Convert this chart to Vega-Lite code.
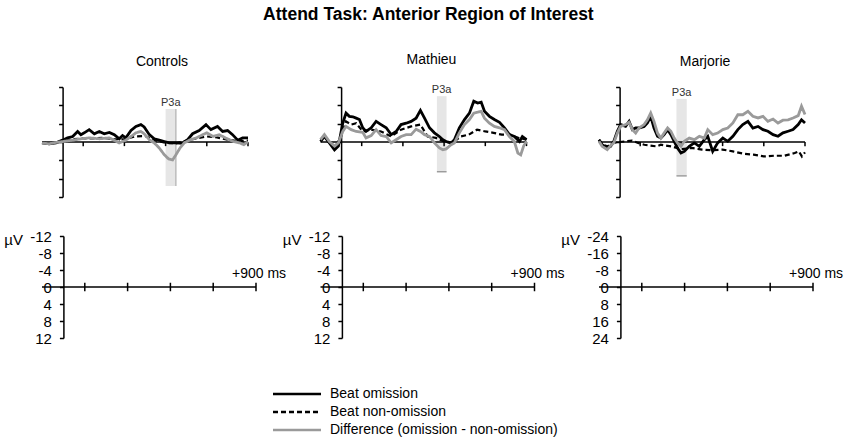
{
"$schema":"https://vega.github.io/schema/vega-lite/v6.json",
"padding":{"left":3,"top":5,"right":14,"bottom":4},
"title":{"text":"Attend Task: Anterior Region of Interest","fontSize":17.5,"fontWeight":"bold","anchor":"middle","offset":30,"dx":5,"color":"black"},
"config":{"font":"Liberation Sans","view":{"stroke":null},"title":{"color":"black"}},
"datasets":{"series":[
{"p":"C","s":"om","t":-100,"v":0.2},{"p":"C","s":"om","t":-65,"v":0.4},{"p":"C","s":"om","t":-32,"v":0.2},{"p":"C","s":"om","t":0,"v":-0.4},{"p":"C","s":"om","t":24,"v":-0.9},{"p":"C","s":"om","t":49,"v":-1.2},{"p":"C","s":"om","t":73,"v":-2.3},{"p":"C","s":"om","t":89,"v":-1.6},{"p":"C","s":"om","t":105,"v":-2.0},{"p":"C","s":"om","t":129,"v":-2.7},{"p":"C","s":"om","t":154,"v":-1.8},{"p":"C","s":"om","t":178,"v":-2.3},{"p":"C","s":"om","t":202,"v":-1.8},{"p":"C","s":"om","t":227,"v":-2.1},{"p":"C","s":"om","t":251,"v":-1.6},{"p":"C","s":"om","t":275,"v":-0.7},{"p":"C","s":"om","t":291,"v":-1.4},{"p":"C","s":"om","t":307,"v":-0.9},{"p":"C","s":"om","t":332,"v":-2.5},{"p":"C","s":"om","t":356,"v":-3.4},{"p":"C","s":"om","t":380,"v":-3.8},{"p":"C","s":"om","t":396,"v":-3.3},{"p":"C","s":"om","t":421,"v":-1.6},{"p":"C","s":"om","t":445,"v":-0.7},{"p":"C","s":"om","t":469,"v":-0.4},{"p":"C","s":"om","t":494,"v":-0.1},{"p":"C","s":"om","t":518,"v":0.2},{"p":"C","s":"om","t":550,"v":0.2},{"p":"C","s":"om","t":583,"v":0.3},{"p":"C","s":"om","t":607,"v":-0.5},{"p":"C","s":"om","t":631,"v":-1.8},{"p":"C","s":"om","t":663,"v":-2.5},{"p":"C","s":"om","t":696,"v":-3.8},{"p":"C","s":"om","t":720,"v":-2.7},{"p":"C","s":"om","t":752,"v":-3.4},{"p":"C","s":"om","t":777,"v":-2.3},{"p":"C","s":"om","t":801,"v":-2.5},{"p":"C","s":"om","t":825,"v":-1.6},{"p":"C","s":"om","t":850,"v":-0.4},{"p":"C","s":"om","t":874,"v":-0.9},{"p":"C","s":"om","t":900,"v":-0.9},
{"p":"C","s":"non","t":-100,"v":0.2},{"p":"C","s":"non","t":-50,"v":0.3},{"p":"C","s":"non","t":0,"v":-0.2},{"p":"C","s":"non","t":50,"v":-0.6},{"p":"C","s":"non","t":100,"v":-0.8},{"p":"C","s":"non","t":150,"v":-0.8},{"p":"C","s":"non","t":200,"v":-0.9},{"p":"C","s":"non","t":250,"v":-0.6},{"p":"C","s":"non","t":300,"v":-0.6},{"p":"C","s":"non","t":350,"v":-1.2},{"p":"C","s":"non","t":400,"v":-1.3},{"p":"C","s":"non","t":450,"v":-0.4},{"p":"C","s":"non","t":500,"v":0.2},{"p":"C","s":"non","t":550,"v":0.3},{"p":"C","s":"non","t":600,"v":-0.3},{"p":"C","s":"non","t":650,"v":-0.8},{"p":"C","s":"non","t":700,"v":-1.2},{"p":"C","s":"non","t":750,"v":-1.0},{"p":"C","s":"non","t":800,"v":-0.5},{"p":"C","s":"non","t":850,"v":-0.2},{"p":"C","s":"non","t":900,"v":-0.3},
{"p":"C","s":"diff","t":-100,"v":0.2},{"p":"C","s":"diff","t":-65,"v":0.4},{"p":"C","s":"diff","t":-32,"v":0.1},{"p":"C","s":"diff","t":0,"v":-0.1},{"p":"C","s":"diff","t":49,"v":-0.4},{"p":"C","s":"diff","t":89,"v":-0.7},{"p":"C","s":"diff","t":129,"v":-0.9},{"p":"C","s":"diff","t":178,"v":-0.7},{"p":"C","s":"diff","t":227,"v":-0.9},{"p":"C","s":"diff","t":275,"v":0.2},{"p":"C","s":"diff","t":307,"v":-0.4},{"p":"C","s":"diff","t":332,"v":-1.2},{"p":"C","s":"diff","t":356,"v":-2.0},{"p":"C","s":"diff","t":380,"v":-2.3},{"p":"C","s":"diff","t":396,"v":-1.8},{"p":"C","s":"diff","t":421,"v":-0.5},{"p":"C","s":"diff","t":445,"v":0.2},{"p":"C","s":"diff","t":469,"v":1.3},{"p":"C","s":"diff","t":494,"v":2.8},{"p":"C","s":"diff","t":515,"v":3.7},{"p":"C","s":"diff","t":534,"v":3.9},{"p":"C","s":"diff","t":550,"v":2.8},{"p":"C","s":"diff","t":570,"v":1.3},{"p":"C","s":"diff","t":590,"v":0.2},{"p":"C","s":"diff","t":620,"v":-0.5},{"p":"C","s":"diff","t":650,"v":-0.9},{"p":"C","s":"diff","t":680,"v":-1.6},{"p":"C","s":"diff","t":700,"v":-2.0},{"p":"C","s":"diff","t":730,"v":-1.2},{"p":"C","s":"diff","t":760,"v":-1.6},{"p":"C","s":"diff","t":790,"v":-0.9},{"p":"C","s":"diff","t":830,"v":-0.1},{"p":"C","s":"diff","t":860,"v":0.2},{"p":"C","s":"diff","t":880,"v":0.6},{"p":"C","s":"diff","t":900,"v":-0.1},
{"p":"M","s":"om","t":-100,"v":-0.1},{"p":"M","s":"om","t":-81,"v":-1.2},{"p":"M","s":"om","t":-57,"v":0.2},{"p":"M","s":"om","t":-32,"v":1.7},{"p":"M","s":"om","t":-13,"v":0.9},{"p":"M","s":"om","t":8,"v":-4.1},{"p":"M","s":"om","t":24,"v":-6.3},{"p":"M","s":"om","t":40,"v":-5.6},{"p":"M","s":"om","t":57,"v":-5.5},{"p":"M","s":"om","t":73,"v":-5.2},{"p":"M","s":"om","t":89,"v":-4.9},{"p":"M","s":"om","t":105,"v":-3.1},{"p":"M","s":"om","t":121,"v":-2.3},{"p":"M","s":"om","t":146,"v":-3.1},{"p":"M","s":"om","t":170,"v":-4.5},{"p":"M","s":"om","t":194,"v":-3.8},{"p":"M","s":"om","t":219,"v":-3.1},{"p":"M","s":"om","t":243,"v":-1.6},{"p":"M","s":"om","t":267,"v":-2.3},{"p":"M","s":"om","t":291,"v":-3.8},{"p":"M","s":"om","t":316,"v":-4.1},{"p":"M","s":"om","t":340,"v":-4.5},{"p":"M","s":"om","t":364,"v":-5.2},{"p":"M","s":"om","t":385,"v":-6.9},{"p":"M","s":"om","t":405,"v":-5.2},{"p":"M","s":"om","t":429,"v":-3.1},{"p":"M","s":"om","t":453,"v":-2.0},{"p":"M","s":"om","t":477,"v":-1.2},{"p":"M","s":"om","t":494,"v":-0.5},{"p":"M","s":"om","t":510,"v":-0.1},{"p":"M","s":"om","t":534,"v":0.2},{"p":"M","s":"om","t":550,"v":-0.5},{"p":"M","s":"om","t":574,"v":-3.1},{"p":"M","s":"om","t":599,"v":-4.9},{"p":"M","s":"om","t":623,"v":-6.3},{"p":"M","s":"om","t":644,"v":-8.9},{"p":"M","s":"om","t":663,"v":-8.5},{"p":"M","s":"om","t":680,"v":-8.7},{"p":"M","s":"om","t":696,"v":-6.7},{"p":"M","s":"om","t":720,"v":-5.6},{"p":"M","s":"om","t":744,"v":-4.9},{"p":"M","s":"om","t":769,"v":-4.3},{"p":"M","s":"om","t":793,"v":-3.1},{"p":"M","s":"om","t":817,"v":-1.6},{"p":"M","s":"om","t":841,"v":-1.2},{"p":"M","s":"om","t":866,"v":-0.1},{"p":"M","s":"om","t":880,"v":-1.2},{"p":"M","s":"om","t":900,"v":-0.5},
{"p":"M","s":"non","t":-100,"v":-0.5},{"p":"M","s":"non","t":-80,"v":-1.2},{"p":"M","s":"non","t":-57,"v":0.2},{"p":"M","s":"non","t":-32,"v":1.3},{"p":"M","s":"non","t":0,"v":-1.2},{"p":"M","s":"non","t":24,"v":-4.5},{"p":"M","s":"non","t":49,"v":-3.8},{"p":"M","s":"non","t":73,"v":-4.1},{"p":"M","s":"non","t":105,"v":-2.3},{"p":"M","s":"non","t":146,"v":-2.7},{"p":"M","s":"non","t":194,"v":-2.3},{"p":"M","s":"non","t":243,"v":-1.2},{"p":"M","s":"non","t":291,"v":-2.7},{"p":"M","s":"non","t":340,"v":-3.4},{"p":"M","s":"non","t":385,"v":-3.8},{"p":"M","s":"non","t":420,"v":-1.2},{"p":"M","s":"non","t":460,"v":-0.9},{"p":"M","s":"non","t":500,"v":-0.1},{"p":"M","s":"non","t":540,"v":0.2},{"p":"M","s":"non","t":580,"v":-1.2},{"p":"M","s":"non","t":620,"v":-1.6},{"p":"M","s":"non","t":660,"v":-2.7},{"p":"M","s":"non","t":700,"v":-2.3},{"p":"M","s":"non","t":740,"v":-2.0},{"p":"M","s":"non","t":780,"v":-1.6},{"p":"M","s":"non","t":820,"v":-1.6},{"p":"M","s":"non","t":860,"v":-0.9},{"p":"M","s":"non","t":900,"v":-0.5},
{"p":"M","s":"diff","t":-100,"v":-0.5},{"p":"M","s":"diff","t":-81,"v":-1.6},{"p":"M","s":"diff","t":-57,"v":-0.1},{"p":"M","s":"diff","t":-32,"v":0.9},{"p":"M","s":"diff","t":-13,"v":0.2},{"p":"M","s":"diff","t":8,"v":-2.3},{"p":"M","s":"diff","t":24,"v":-3.4},{"p":"M","s":"diff","t":49,"v":-2.7},{"p":"M","s":"diff","t":73,"v":-2.3},{"p":"M","s":"diff","t":105,"v":-2.1},{"p":"M","s":"diff","t":121,"v":-0.9},{"p":"M","s":"diff","t":146,"v":-1.4},{"p":"M","s":"diff","t":170,"v":-2.7},{"p":"M","s":"diff","t":194,"v":-1.4},{"p":"M","s":"diff","t":219,"v":-1.2},{"p":"M","s":"diff","t":243,"v":0.2},{"p":"M","s":"diff","t":267,"v":-0.5},{"p":"M","s":"diff","t":291,"v":-1.2},{"p":"M","s":"diff","t":316,"v":-1.6},{"p":"M","s":"diff","t":340,"v":-1.6},{"p":"M","s":"diff","t":364,"v":-2.8},{"p":"M","s":"diff","t":385,"v":-2.3},{"p":"M","s":"diff","t":405,"v":-1.6},{"p":"M","s":"diff","t":429,"v":-1.2},{"p":"M","s":"diff","t":453,"v":0.2},{"p":"M","s":"diff","t":477,"v":1.3},{"p":"M","s":"diff","t":494,"v":1.7},{"p":"M","s":"diff","t":510,"v":1.5},{"p":"M","s":"diff","t":534,"v":0.6},{"p":"M","s":"diff","t":550,"v":0.2},{"p":"M","s":"diff","t":574,"v":-2.0},{"p":"M","s":"diff","t":599,"v":-3.8},{"p":"M","s":"diff","t":623,"v":-4.9},{"p":"M","s":"diff","t":644,"v":-6.3},{"p":"M","s":"diff","t":663,"v":-6.5},{"p":"M","s":"diff","t":680,"v":-6.7},{"p":"M","s":"diff","t":696,"v":-5.2},{"p":"M","s":"diff","t":720,"v":-4.1},{"p":"M","s":"diff","t":744,"v":-3.4},{"p":"M","s":"diff","t":769,"v":-3.1},{"p":"M","s":"diff","t":793,"v":-2.7},{"p":"M","s":"diff","t":817,"v":-1.2},{"p":"M","s":"diff","t":841,"v":-0.1},{"p":"M","s":"diff","t":858,"v":2.4},{"p":"M","s":"diff","t":872,"v":2.8},{"p":"M","s":"diff","t":886,"v":0.9},{"p":"M","s":"diff","t":900,"v":-0.1},
{"p":"J","s":"om","t":-100,"v":-1.0},{"p":"J","s":"om","t":-85,"v":1.2},{"p":"J","s":"om","t":-60,"v":2.6},{"p":"J","s":"om","t":-44,"v":1.9},{"p":"J","s":"om","t":-28,"v":-0.3},{"p":"J","s":"om","t":-11,"v":-4.7},{"p":"J","s":"om","t":5,"v":-7.6},{"p":"J","s":"om","t":29,"v":-6.8},{"p":"J","s":"om","t":46,"v":-9.0},{"p":"J","s":"om","t":62,"v":-5.4},{"p":"J","s":"om","t":78,"v":-6.1},{"p":"J","s":"om","t":94,"v":-6.1},{"p":"J","s":"om","t":119,"v":-6.8},{"p":"J","s":"om","t":135,"v":-8.3},{"p":"J","s":"om","t":151,"v":-11.2},{"p":"J","s":"om","t":167,"v":-6.1},{"p":"J","s":"om","t":184,"v":-2.5},{"p":"J","s":"om","t":200,"v":-1.7},{"p":"J","s":"om","t":216,"v":-3.2},{"p":"J","s":"om","t":233,"v":-5.4},{"p":"J","s":"om","t":249,"v":-3.2},{"p":"J","s":"om","t":265,"v":-0.3},{"p":"J","s":"om","t":281,"v":2.6},{"p":"J","s":"om","t":298,"v":4.8},{"p":"J","s":"om","t":314,"v":4.1},{"p":"J","s":"om","t":338,"v":1.9},{"p":"J","s":"om","t":363,"v":0.4},{"p":"J","s":"om","t":387,"v":1.9},{"p":"J","s":"om","t":411,"v":-1.0},{"p":"J","s":"om","t":428,"v":-2.5},{"p":"J","s":"om","t":452,"v":4.1},{"p":"J","s":"om","t":476,"v":0.4},{"p":"J","s":"om","t":501,"v":-1.7},{"p":"J","s":"om","t":525,"v":-0.3},{"p":"J","s":"om","t":550,"v":-2.5},{"p":"J","s":"om","t":574,"v":-5.4},{"p":"J","s":"om","t":598,"v":-7.6},{"p":"J","s":"om","t":623,"v":-9.0},{"p":"J","s":"om","t":647,"v":-6.1},{"p":"J","s":"om","t":672,"v":-6.8},{"p":"J","s":"om","t":696,"v":-5.4},{"p":"J","s":"om","t":720,"v":-4.7},{"p":"J","s":"om","t":745,"v":-3.2},{"p":"J","s":"om","t":769,"v":-2.5},{"p":"J","s":"om","t":793,"v":-4.0},{"p":"J","s":"om","t":818,"v":-4.7},{"p":"J","s":"om","t":842,"v":-5.4},{"p":"J","s":"om","t":867,"v":-7.6},{"p":"J","s":"om","t":883,"v":-9.7},{"p":"J","s":"om","t":900,"v":-8.3},
{"p":"J","s":"non","t":-100,"v":-1.0},{"p":"J","s":"non","t":-80,"v":1.2},{"p":"J","s":"non","t":-60,"v":1.9},{"p":"J","s":"non","t":-30,"v":0.4},{"p":"J","s":"non","t":0,"v":0.0},{"p":"J","s":"non","t":30,"v":-0.3},{"p":"J","s":"non","t":60,"v":-0.6},{"p":"J","s":"non","t":90,"v":0.4},{"p":"J","s":"non","t":120,"v":1.2},{"p":"J","s":"non","t":150,"v":1.6},{"p":"J","s":"non","t":180,"v":1.9},{"p":"J","s":"non","t":200,"v":1.2},{"p":"J","s":"non","t":250,"v":1.9},{"p":"J","s":"non","t":300,"v":3.1},{"p":"J","s":"non","t":350,"v":2.6},{"p":"J","s":"non","t":400,"v":3.3},{"p":"J","s":"non","t":450,"v":3.6},{"p":"J","s":"non","t":500,"v":3.3},{"p":"J","s":"non","t":550,"v":4.1},{"p":"J","s":"non","t":600,"v":5.1},{"p":"J","s":"non","t":650,"v":5.5},{"p":"J","s":"non","t":700,"v":6.3},{"p":"J","s":"non","t":750,"v":6.0},{"p":"J","s":"non","t":800,"v":6.0},{"p":"J","s":"non","t":850,"v":4.8},{"p":"J","s":"non","t":870,"v":4.1},{"p":"J","s":"non","t":885,"v":6.3},{"p":"J","s":"non","t":900,"v":4.5},
{"p":"J","s":"diff","t":-100,"v":-0.3},{"p":"J","s":"diff","t":-85,"v":1.9},{"p":"J","s":"diff","t":-60,"v":3.3},{"p":"J","s":"diff","t":-44,"v":1.6},{"p":"J","s":"diff","t":-28,"v":0.4},{"p":"J","s":"diff","t":-11,"v":-3.9},{"p":"J","s":"diff","t":5,"v":-6.8},{"p":"J","s":"diff","t":29,"v":-7.6},{"p":"J","s":"diff","t":46,"v":-8.6},{"p":"J","s":"diff","t":62,"v":-5.4},{"p":"J","s":"diff","t":78,"v":-3.9},{"p":"J","s":"diff","t":94,"v":-6.1},{"p":"J","s":"diff","t":119,"v":-7.6},{"p":"J","s":"diff","t":135,"v":-9.7},{"p":"J","s":"diff","t":151,"v":-12.7},{"p":"J","s":"diff","t":167,"v":-9.0},{"p":"J","s":"diff","t":184,"v":-3.9},{"p":"J","s":"diff","t":200,"v":-1.7},{"p":"J","s":"diff","t":216,"v":-3.9},{"p":"J","s":"diff","t":233,"v":-6.1},{"p":"J","s":"diff","t":249,"v":-4.7},{"p":"J","s":"diff","t":265,"v":-1.7},{"p":"J","s":"diff","t":281,"v":0.4},{"p":"J","s":"diff","t":298,"v":1.9},{"p":"J","s":"diff","t":314,"v":-0.3},{"p":"J","s":"diff","t":338,"v":-1.7},{"p":"J","s":"diff","t":363,"v":-1.0},{"p":"J","s":"diff","t":387,"v":-2.5},{"p":"J","s":"diff","t":411,"v":-1.7},{"p":"J","s":"diff","t":428,"v":-5.4},{"p":"J","s":"diff","t":452,"v":-3.2},{"p":"J","s":"diff","t":476,"v":-3.9},{"p":"J","s":"diff","t":501,"v":-5.4},{"p":"J","s":"diff","t":525,"v":-6.1},{"p":"J","s":"diff","t":550,"v":-8.3},{"p":"J","s":"diff","t":574,"v":-11.9},{"p":"J","s":"diff","t":598,"v":-11.9},{"p":"J","s":"diff","t":623,"v":-13.4},{"p":"J","s":"diff","t":647,"v":-11.2},{"p":"J","s":"diff","t":672,"v":-10.5},{"p":"J","s":"diff","t":696,"v":-11.2},{"p":"J","s":"diff","t":720,"v":-9.0},{"p":"J","s":"diff","t":745,"v":-10.0},{"p":"J","s":"diff","t":769,"v":-8.3},{"p":"J","s":"diff","t":793,"v":-9.5},{"p":"J","s":"diff","t":818,"v":-9.7},{"p":"J","s":"diff","t":842,"v":-10.5},{"p":"J","s":"diff","t":867,"v":-11.5},{"p":"J","s":"diff","t":883,"v":-15.6},{"p":"J","s":"diff","t":900,"v":-12.0}
]},
"columns":3,
"spacing":{"row":39,"column":64.5},
"bounds":"flush",
"concat":[
 {"width":206,"height":110,
  "title":{"text":"Controls","fontSize":14,"fontWeight":"normal","offset":17,"dx":17,"anchor":"middle","frame":"group"},
  "layer":[
   {"data":{"values":[{"t0":500,"t1":550,"tc":525,"v0":-7.2,"v1":9.6}]},"mark":{"type":"rect","fill":"#e6e6e6"},
    "encoding":{"x":{"field":"t0","type":"quantitative","scale":{"domain":[-100,900],"nice":false,"zero":false},"axis":null},"x2":{"field":"t1"},
     "y":{"field":"v0","type":"quantitative","scale":{"domain":[-12,12],"reverse":true,"nice":false,"zero":false},"axis":{"title":null,"labels":false,"values":[-12,-8,-4,0,4,8,12],"tickSize":4,"tickWidth":1.5,"tickColor":"black","domainColor":"black","domainWidth":1.5,"grid":false,"offset":-20.6}},"y2":{"field":"v1"}}},
   {"data":{"values":[{"t0":500,"t1":550,"tc":525,"v0":-7.2,"v1":9.6}]},"mark":{"type":"rule","color":"#b0b0b0","strokeWidth":1.2},
    "encoding":{"x":{"field":"t1","type":"quantitative","scale":{"domain":[-100,900],"nice":false,"zero":false},"axis":null},
     "y":{"field":"v0","type":"quantitative","scale":{"domain":[-12,12],"reverse":true,"nice":false,"zero":false},"axis":{"title":null,"labels":false,"values":[-12,-8,-4,0,4,8,12],"tickSize":4,"tickWidth":1.5,"tickColor":"black","domainColor":"black","domainWidth":1.5,"grid":false,"offset":-20.6}},"y2":{"field":"v1"}}},
   {"data":{"values":[{"t0":500,"t1":550,"tc":525,"v0":-7.2,"v1":9.6}]},"mark":{"type":"text","text":"P3a","fontSize":11,"baseline":"alphabetic","dy":-3,"color":"#333333"},
    "encoding":{"x":{"field":"tc","type":"quantitative","scale":{"domain":[-100,900],"nice":false,"zero":false},"axis":null},
     "y":{"field":"v0","type":"quantitative","scale":{"domain":[-12,12],"reverse":true,"nice":false,"zero":false},"axis":{"title":null,"labels":false,"values":[-12,-8,-4,0,4,8,12],"tickSize":4,"tickWidth":1.5,"tickColor":"black","domainColor":"black","domainWidth":1.5,"grid":false,"offset":-20.6}}}},
   {"data":{"values":[{}]},"mark":{"type":"rule","color":"black","strokeWidth":1.5},
    "encoding":{"x":{"datum":-100,"type":"quantitative","scale":{"domain":[-100,900],"nice":false,"zero":false},"axis":null},"x2":{"datum":900},
     "y":{"datum":0,"type":"quantitative","scale":{"domain":[-12,12],"reverse":true,"nice":false,"zero":false},"axis":{"title":null,"labels":false,"values":[-12,-8,-4,0,4,8,12],"tickSize":4,"tickWidth":1.5,"tickColor":"black","domainColor":"black","domainWidth":1.5,"grid":false,"offset":-20.6}}}},
   {"data":{"values":[{"t":100},{"t":300},{"t":500},{"t":700},{"t":900}]},"mark":{"type":"rule","color":"black","strokeWidth":1.5},
    "encoding":{"x":{"field":"t","type":"quantitative","scale":{"domain":[-100,900],"nice":false,"zero":false},"axis":null},
     "y":{"datum":0,"type":"quantitative","scale":{"domain":[-12,12],"reverse":true,"nice":false,"zero":false},"axis":{"title":null,"labels":false,"values":[-12,-8,-4,0,4,8,12],"tickSize":4,"tickWidth":1.5,"tickColor":"black","domainColor":"black","domainWidth":1.5,"grid":false,"offset":-20.6}},"y2":{"datum":0.9}}},
   {"data":{"name":"series"},"transform":[{"filter":"datum.p=='C' && datum.s=='non'"}],"mark":{"type":"line","color":"black","strokeWidth":2.2,"strokeDash":[5,3]},
    "encoding":{"x":{"field":"t","type":"quantitative","scale":{"domain":[-100,900],"nice":false,"zero":false},"axis":null},
     "y":{"field":"v","type":"quantitative","scale":{"domain":[-12,12],"reverse":true,"nice":false,"zero":false},"axis":{"title":null,"labels":false,"values":[-12,-8,-4,0,4,8,12],"tickSize":4,"tickWidth":1.5,"tickColor":"black","domainColor":"black","domainWidth":1.5,"grid":false,"offset":-20.6}}}},
   {"data":{"name":"series"},"transform":[{"filter":"datum.p=='C' && datum.s=='om'"}],"mark":{"type":"line","color":"black","strokeWidth":2.8},
    "encoding":{"x":{"field":"t","type":"quantitative","scale":{"domain":[-100,900],"nice":false,"zero":false},"axis":null},
     "y":{"field":"v","type":"quantitative","scale":{"domain":[-12,12],"reverse":true,"nice":false,"zero":false},"axis":{"title":null,"labels":false,"values":[-12,-8,-4,0,4,8,12],"tickSize":4,"tickWidth":1.5,"tickColor":"black","domainColor":"black","domainWidth":1.5,"grid":false,"offset":-20.6}}}},
   {"data":{"name":"series"},"transform":[{"filter":"datum.p=='C' && datum.s=='diff'"}],"mark":{"type":"line","strokeWidth":2.8},
    "encoding":{"x":{"field":"t","type":"quantitative","scale":{"domain":[-100,900],"nice":false,"zero":false},"axis":null},
     "y":{"field":"v","type":"quantitative","scale":{"domain":[-12,12],"reverse":true,"nice":false,"zero":false},"axis":{"title":null,"labels":false,"values":[-12,-8,-4,0,4,8,12],"tickSize":4,"tickWidth":1.5,"tickColor":"black","domainColor":"black","domainWidth":1.5,"grid":false,"offset":-20.6}},
     "color":{"field":"s","type":"nominal","scale":{"domain":["om","non","diff"],"range":["#000000","#000000","#9a9a9a"]},"legend":{"title":null,"orient":"none","legendX":247.5,"legendY":299.5,"padding":0,"rowPadding":3,"symbolType":"M-4,0H4","symbolSize":144,"symbolStrokeWidth":2.5,"labelFontSize":14,"labelOffset":25.5,"labelColor":"black","labelLimit":400,"labelExpr":"datum.label=='om' ? 'Beat omission' : datum.label=='non' ? 'Beat non-omission' : 'Difference (omission - non-omission)'"}},
     "strokeDash":{"field":"s","type":"nominal","scale":{"domain":["om","non","diff"],"range":[[1,0],[5,3],[1,0]]},"legend":{"title":null,"orient":"none","legendX":247.5,"legendY":299.5,"padding":0,"rowPadding":3,"symbolType":"M-4,0H4","symbolSize":144,"symbolStrokeWidth":2.5,"labelFontSize":14,"labelOffset":25.5,"labelColor":"black","labelLimit":400,"labelExpr":"datum.label=='om' ? 'Beat omission' : datum.label=='non' ? 'Beat non-omission' : 'Difference (omission - non-omission)'"}}}}
  ]},
 {"width":206,"height":110,
  "title":{"text":"Mathieu","fontSize":14,"fontWeight":"normal","offset":17,"dx":8,"anchor":"middle","frame":"group"},
  "layer":[
   {"data":{"values":[{"t0":465,"t1":512,"tc":488,"v0":-10,"v1":6.5}]},"mark":{"type":"rect","fill":"#e6e6e6"},
    "encoding":{"x":{"field":"t0","type":"quantitative","scale":{"domain":[-100,900],"nice":false,"zero":false},"axis":null},"x2":{"field":"t1"},
     "y":{"field":"v0","type":"quantitative","scale":{"domain":[-12,12],"reverse":true,"nice":false,"zero":false},"axis":{"title":null,"labels":false,"values":[-12,-8,-4,0,4,8,12],"tickSize":4,"tickWidth":1.5,"tickColor":"black","domainColor":"black","domainWidth":1.5,"grid":false,"offset":-20.6}},"y2":{"field":"v1"}}},
   {"data":{"values":[{"t0":465,"t1":512,"tc":488,"v0":-10,"v1":6.5}]},"mark":{"type":"rule","color":"#8a8a8a","strokeWidth":1.2},
    "encoding":{"x":{"field":"t0","type":"quantitative","scale":{"domain":[-100,900],"nice":false,"zero":false},"axis":null},"x2":{"field":"t1"},
     "y":{"field":"v1","type":"quantitative","scale":{"domain":[-12,12],"reverse":true,"nice":false,"zero":false},"axis":{"title":null,"labels":false,"values":[-12,-8,-4,0,4,8,12],"tickSize":4,"tickWidth":1.5,"tickColor":"black","domainColor":"black","domainWidth":1.5,"grid":false,"offset":-20.6}}}},
   {"data":{"values":[{"t0":465,"t1":512,"tc":488,"v0":-10,"v1":6.5}]},"mark":{"type":"text","text":"P3a","fontSize":11,"baseline":"alphabetic","dy":-3,"color":"#333333"},
    "encoding":{"x":{"field":"tc","type":"quantitative","scale":{"domain":[-100,900],"nice":false,"zero":false},"axis":null},
     "y":{"field":"v0","type":"quantitative","scale":{"domain":[-12,12],"reverse":true,"nice":false,"zero":false},"axis":{"title":null,"labels":false,"values":[-12,-8,-4,0,4,8,12],"tickSize":4,"tickWidth":1.5,"tickColor":"black","domainColor":"black","domainWidth":1.5,"grid":false,"offset":-20.6}}}},
   {"data":{"values":[{}]},"mark":{"type":"rule","color":"black","strokeWidth":1.5},
    "encoding":{"x":{"datum":-100,"type":"quantitative","scale":{"domain":[-100,900],"nice":false,"zero":false},"axis":null},"x2":{"datum":900},
     "y":{"datum":0,"type":"quantitative","scale":{"domain":[-12,12],"reverse":true,"nice":false,"zero":false},"axis":{"title":null,"labels":false,"values":[-12,-8,-4,0,4,8,12],"tickSize":4,"tickWidth":1.5,"tickColor":"black","domainColor":"black","domainWidth":1.5,"grid":false,"offset":-20.6}}}},
   {"data":{"values":[{"t":100},{"t":300},{"t":500},{"t":700},{"t":900}]},"mark":{"type":"rule","color":"black","strokeWidth":1.5},
    "encoding":{"x":{"field":"t","type":"quantitative","scale":{"domain":[-100,900],"nice":false,"zero":false},"axis":null},
     "y":{"datum":0,"type":"quantitative","scale":{"domain":[-12,12],"reverse":true,"nice":false,"zero":false},"axis":{"title":null,"labels":false,"values":[-12,-8,-4,0,4,8,12],"tickSize":4,"tickWidth":1.5,"tickColor":"black","domainColor":"black","domainWidth":1.5,"grid":false,"offset":-20.6}},"y2":{"datum":0.9}}},
   {"data":{"name":"series"},"transform":[{"filter":"datum.p=='M' && datum.s=='non'"}],"mark":{"type":"line","color":"black","strokeWidth":2.2,"strokeDash":[5,3]},
    "encoding":{"x":{"field":"t","type":"quantitative","scale":{"domain":[-100,900],"nice":false,"zero":false},"axis":null},
     "y":{"field":"v","type":"quantitative","scale":{"domain":[-12,12],"reverse":true,"nice":false,"zero":false},"axis":{"title":null,"labels":false,"values":[-12,-8,-4,0,4,8,12],"tickSize":4,"tickWidth":1.5,"tickColor":"black","domainColor":"black","domainWidth":1.5,"grid":false,"offset":-20.6}}}},
   {"data":{"name":"series"},"transform":[{"filter":"datum.p=='M' && datum.s=='om'"}],"mark":{"type":"line","color":"black","strokeWidth":2.8},
    "encoding":{"x":{"field":"t","type":"quantitative","scale":{"domain":[-100,900],"nice":false,"zero":false},"axis":null},
     "y":{"field":"v","type":"quantitative","scale":{"domain":[-12,12],"reverse":true,"nice":false,"zero":false},"axis":{"title":null,"labels":false,"values":[-12,-8,-4,0,4,8,12],"tickSize":4,"tickWidth":1.5,"tickColor":"black","domainColor":"black","domainWidth":1.5,"grid":false,"offset":-20.6}}}},
   {"data":{"name":"series"},"transform":[{"filter":"datum.p=='M' && datum.s=='diff'"}],"mark":{"type":"line","color":"#9a9a9a","strokeWidth":2.8},
    "encoding":{"x":{"field":"t","type":"quantitative","scale":{"domain":[-100,900],"nice":false,"zero":false},"axis":null},
     "y":{"field":"v","type":"quantitative","scale":{"domain":[-12,12],"reverse":true,"nice":false,"zero":false},"axis":{"title":null,"labels":false,"values":[-12,-8,-4,0,4,8,12],"tickSize":4,"tickWidth":1.5,"tickColor":"black","domainColor":"black","domainWidth":1.5,"grid":false,"offset":-20.6}}}}
  ]},
 {"width":206,"height":110,
  "title":{"text":"Marjorie","fontSize":14,"fontWeight":"normal","offset":17,"dx":3,"anchor":"middle","frame":"group"},
  "layer":[
   {"data":{"values":[{"t0":276,"t1":326,"tc":301,"v0":-18.8,"v1":14.8}]},"mark":{"type":"rect","fill":"#e6e6e6"},
    "encoding":{"x":{"field":"t0","type":"quantitative","scale":{"domain":[-100,900],"nice":false,"zero":false},"axis":null},"x2":{"field":"t1"},
     "y":{"field":"v0","type":"quantitative","scale":{"domain":[-24,24],"reverse":true,"nice":false,"zero":false},"axis":{"title":null,"labels":false,"values":[-24,-16,-8,0,8,16,24],"tickSize":4,"tickWidth":1.5,"tickColor":"black","domainColor":"black","domainWidth":1.5,"grid":false,"offset":-20.6}},"y2":{"field":"v1"}}},
   {"data":{"values":[{"t0":276,"t1":326,"tc":301,"v0":-18.8,"v1":14.8}]},"mark":{"type":"rule","color":"#8a8a8a","strokeWidth":1.2},
    "encoding":{"x":{"field":"t0","type":"quantitative","scale":{"domain":[-100,900],"nice":false,"zero":false},"axis":null},"x2":{"field":"t1"},
     "y":{"field":"v1","type":"quantitative","scale":{"domain":[-24,24],"reverse":true,"nice":false,"zero":false},"axis":{"title":null,"labels":false,"values":[-24,-16,-8,0,8,16,24],"tickSize":4,"tickWidth":1.5,"tickColor":"black","domainColor":"black","domainWidth":1.5,"grid":false,"offset":-20.6}}}},
   {"data":{"values":[{"t0":276,"t1":326,"tc":301,"v0":-18.8,"v1":14.8}]},"mark":{"type":"text","text":"P3a","fontSize":11,"baseline":"alphabetic","dy":-3,"color":"#333333"},
    "encoding":{"x":{"field":"tc","type":"quantitative","scale":{"domain":[-100,900],"nice":false,"zero":false},"axis":null},
     "y":{"field":"v0","type":"quantitative","scale":{"domain":[-24,24],"reverse":true,"nice":false,"zero":false},"axis":{"title":null,"labels":false,"values":[-24,-16,-8,0,8,16,24],"tickSize":4,"tickWidth":1.5,"tickColor":"black","domainColor":"black","domainWidth":1.5,"grid":false,"offset":-20.6}}}},
   {"data":{"values":[{}]},"mark":{"type":"rule","color":"black","strokeWidth":1.5},
    "encoding":{"x":{"datum":-100,"type":"quantitative","scale":{"domain":[-100,900],"nice":false,"zero":false},"axis":null},"x2":{"datum":900},
     "y":{"datum":0,"type":"quantitative","scale":{"domain":[-24,24],"reverse":true,"nice":false,"zero":false},"axis":{"title":null,"labels":false,"values":[-24,-16,-8,0,8,16,24],"tickSize":4,"tickWidth":1.5,"tickColor":"black","domainColor":"black","domainWidth":1.5,"grid":false,"offset":-20.6}}}},
   {"data":{"values":[{"t":100},{"t":300},{"t":500},{"t":700},{"t":900}]},"mark":{"type":"rule","color":"black","strokeWidth":1.5},
    "encoding":{"x":{"field":"t","type":"quantitative","scale":{"domain":[-100,900],"nice":false,"zero":false},"axis":null},
     "y":{"datum":0,"type":"quantitative","scale":{"domain":[-24,24],"reverse":true,"nice":false,"zero":false},"axis":{"title":null,"labels":false,"values":[-24,-16,-8,0,8,16,24],"tickSize":4,"tickWidth":1.5,"tickColor":"black","domainColor":"black","domainWidth":1.5,"grid":false,"offset":-20.6}},"y2":{"datum":1.8}}},
   {"data":{"name":"series"},"transform":[{"filter":"datum.p=='J' && datum.s=='non'"}],"mark":{"type":"line","color":"black","strokeWidth":2.2,"strokeDash":[5,3]},
    "encoding":{"x":{"field":"t","type":"quantitative","scale":{"domain":[-100,900],"nice":false,"zero":false},"axis":null},
     "y":{"field":"v","type":"quantitative","scale":{"domain":[-24,24],"reverse":true,"nice":false,"zero":false},"axis":{"title":null,"labels":false,"values":[-24,-16,-8,0,8,16,24],"tickSize":4,"tickWidth":1.5,"tickColor":"black","domainColor":"black","domainWidth":1.5,"grid":false,"offset":-20.6}}}},
   {"data":{"name":"series"},"transform":[{"filter":"datum.p=='J' && datum.s=='om'"}],"mark":{"type":"line","color":"black","strokeWidth":2.8},
    "encoding":{"x":{"field":"t","type":"quantitative","scale":{"domain":[-100,900],"nice":false,"zero":false},"axis":null},
     "y":{"field":"v","type":"quantitative","scale":{"domain":[-24,24],"reverse":true,"nice":false,"zero":false},"axis":{"title":null,"labels":false,"values":[-24,-16,-8,0,8,16,24],"tickSize":4,"tickWidth":1.5,"tickColor":"black","domainColor":"black","domainWidth":1.5,"grid":false,"offset":-20.6}}}},
   {"data":{"name":"series"},"transform":[{"filter":"datum.p=='J' && datum.s=='diff'"}],"mark":{"type":"line","color":"#9a9a9a","strokeWidth":2.8},
    "encoding":{"x":{"field":"t","type":"quantitative","scale":{"domain":[-100,900],"nice":false,"zero":false},"axis":null},
     "y":{"field":"v","type":"quantitative","scale":{"domain":[-24,24],"reverse":true,"nice":false,"zero":false},"axis":{"title":null,"labels":false,"values":[-24,-16,-8,0,8,16,24],"tickSize":4,"tickWidth":1.5,"tickColor":"black","domainColor":"black","domainWidth":1.5,"grid":false,"offset":-20.6}}}}
  ]},
 {"width":214,"height":102,
  "layer":[
   {"data":{"values":[{}]},"mark":{"type":"rule","color":"black","strokeWidth":1.5},
    "encoding":{"x":{"datum":-100,"type":"quantitative","scale":{"domain":[-100,900],"nice":false,"zero":false},"axis":null},"x2":{"datum":900},
     "y":{"datum":0,"type":"quantitative","scale":{"domain":[-12,12],"reverse":true,"nice":false,"zero":false},"axis":{"title":"µV","titleAngle":0,"titleAlign":"right","titleBaseline":"middle","titleX":-41,"titleY":3,"titleFontSize":15,"titleFontWeight":"normal","titleColor":"black","values":[-12,-8,-4,0,4,8,12],"labelExpr":"''+datum.value","labelFontSize":15,"labelColor":"black","labelPadding":8,"labelOverlap":false,"tickSize":4,"tickWidth":1.5,"tickColor":"black","domainColor":"black","domainWidth":1.5,"grid":false,"offset":-21.4}}}},
   {"data":{"values":[{"t":100},{"t":300},{"t":500},{"t":700},{"t":900}]},"mark":{"type":"rule","color":"black","strokeWidth":1.5},
    "encoding":{"x":{"field":"t","type":"quantitative","scale":{"domain":[-100,900],"nice":false,"zero":false},"axis":null},
     "y":{"datum":-1,"type":"quantitative","scale":{"domain":[-12,12],"reverse":true,"nice":false,"zero":false},"axis":{"title":"µV","titleAngle":0,"titleAlign":"right","titleBaseline":"middle","titleX":-41,"titleY":3,"titleFontSize":15,"titleFontWeight":"normal","titleColor":"black","values":[-12,-8,-4,0,4,8,12],"labelExpr":"''+datum.value","labelFontSize":15,"labelColor":"black","labelPadding":8,"labelOverlap":false,"tickSize":4,"tickWidth":1.5,"tickColor":"black","domainColor":"black","domainWidth":1.5,"grid":false,"offset":-21.4}},"y2":{"datum":1}}},
   {"data":{"values":[{}]},"mark":{"type":"text","text":"+900 ms","fontSize":14,"align":"center","baseline":"alphabetic","dx":3,"dy":-9,"color":"black"},
    "encoding":{"x":{"datum":900,"type":"quantitative","scale":{"domain":[-100,900],"nice":false,"zero":false},"axis":null},
     "y":{"datum":0,"type":"quantitative","scale":{"domain":[-12,12],"reverse":true,"nice":false,"zero":false},"axis":{"title":"µV","titleAngle":0,"titleAlign":"right","titleBaseline":"middle","titleX":-41,"titleY":3,"titleFontSize":15,"titleFontWeight":"normal","titleColor":"black","values":[-12,-8,-4,0,4,8,12],"labelExpr":"''+datum.value","labelFontSize":15,"labelColor":"black","labelPadding":8,"labelOverlap":false,"tickSize":4,"tickWidth":1.5,"tickColor":"black","domainColor":"black","domainWidth":1.5,"grid":false,"offset":-21.4}}}}
  ]},
 {"width":214,"height":102,
  "layer":[
   {"data":{"values":[{}]},"mark":{"type":"rule","color":"black","strokeWidth":1.5},
    "encoding":{"x":{"datum":-100,"type":"quantitative","scale":{"domain":[-100,900],"nice":false,"zero":false},"axis":null},"x2":{"datum":900},
     "y":{"datum":0,"type":"quantitative","scale":{"domain":[-12,12],"reverse":true,"nice":false,"zero":false},"axis":{"title":"µV","titleAngle":0,"titleAlign":"right","titleBaseline":"middle","titleX":-41,"titleY":3,"titleFontSize":15,"titleFontWeight":"normal","titleColor":"black","values":[-12,-8,-4,0,4,8,12],"labelExpr":"''+datum.value","labelFontSize":15,"labelColor":"black","labelPadding":8,"labelOverlap":false,"tickSize":4,"tickWidth":1.5,"tickColor":"black","domainColor":"black","domainWidth":1.5,"grid":false,"offset":-21.4}}}},
   {"data":{"values":[{"t":100},{"t":300},{"t":500},{"t":700},{"t":900}]},"mark":{"type":"rule","color":"black","strokeWidth":1.5},
    "encoding":{"x":{"field":"t","type":"quantitative","scale":{"domain":[-100,900],"nice":false,"zero":false},"axis":null},
     "y":{"datum":-1,"type":"quantitative","scale":{"domain":[-12,12],"reverse":true,"nice":false,"zero":false},"axis":{"title":"µV","titleAngle":0,"titleAlign":"right","titleBaseline":"middle","titleX":-41,"titleY":3,"titleFontSize":15,"titleFontWeight":"normal","titleColor":"black","values":[-12,-8,-4,0,4,8,12],"labelExpr":"''+datum.value","labelFontSize":15,"labelColor":"black","labelPadding":8,"labelOverlap":false,"tickSize":4,"tickWidth":1.5,"tickColor":"black","domainColor":"black","domainWidth":1.5,"grid":false,"offset":-21.4}},"y2":{"datum":1}}},
   {"data":{"values":[{}]},"mark":{"type":"text","text":"+900 ms","fontSize":14,"align":"center","baseline":"alphabetic","dx":3,"dy":-9,"color":"black"},
    "encoding":{"x":{"datum":900,"type":"quantitative","scale":{"domain":[-100,900],"nice":false,"zero":false},"axis":null},
     "y":{"datum":0,"type":"quantitative","scale":{"domain":[-12,12],"reverse":true,"nice":false,"zero":false},"axis":{"title":"µV","titleAngle":0,"titleAlign":"right","titleBaseline":"middle","titleX":-41,"titleY":3,"titleFontSize":15,"titleFontWeight":"normal","titleColor":"black","values":[-12,-8,-4,0,4,8,12],"labelExpr":"''+datum.value","labelFontSize":15,"labelColor":"black","labelPadding":8,"labelOverlap":false,"tickSize":4,"tickWidth":1.5,"tickColor":"black","domainColor":"black","domainWidth":1.5,"grid":false,"offset":-21.4}}}}
  ]},
 {"width":214,"height":102,
  "layer":[
   {"data":{"values":[{}]},"mark":{"type":"rule","color":"black","strokeWidth":1.5},
    "encoding":{"x":{"datum":-100,"type":"quantitative","scale":{"domain":[-100,900],"nice":false,"zero":false},"axis":null},"x2":{"datum":900},
     "y":{"datum":0,"type":"quantitative","scale":{"domain":[-24,24],"reverse":true,"nice":false,"zero":false},"axis":{"title":"µV","titleAngle":0,"titleAlign":"right","titleBaseline":"middle","titleX":-41,"titleY":3,"titleFontSize":15,"titleFontWeight":"normal","titleColor":"black","values":[-24,-16,-8,0,8,16,24],"labelExpr":"''+datum.value","labelFontSize":15,"labelColor":"black","labelPadding":8,"labelOverlap":false,"tickSize":4,"tickWidth":1.5,"tickColor":"black","domainColor":"black","domainWidth":1.5,"grid":false,"offset":-21.4}}}},
   {"data":{"values":[{"t":100},{"t":300},{"t":500},{"t":700},{"t":900}]},"mark":{"type":"rule","color":"black","strokeWidth":1.5},
    "encoding":{"x":{"field":"t","type":"quantitative","scale":{"domain":[-100,900],"nice":false,"zero":false},"axis":null},
     "y":{"datum":-2,"type":"quantitative","scale":{"domain":[-24,24],"reverse":true,"nice":false,"zero":false},"axis":{"title":"µV","titleAngle":0,"titleAlign":"right","titleBaseline":"middle","titleX":-41,"titleY":3,"titleFontSize":15,"titleFontWeight":"normal","titleColor":"black","values":[-24,-16,-8,0,8,16,24],"labelExpr":"''+datum.value","labelFontSize":15,"labelColor":"black","labelPadding":8,"labelOverlap":false,"tickSize":4,"tickWidth":1.5,"tickColor":"black","domainColor":"black","domainWidth":1.5,"grid":false,"offset":-21.4}},"y2":{"datum":2}}},
   {"data":{"values":[{}]},"mark":{"type":"text","text":"+900 ms","fontSize":14,"align":"center","baseline":"alphabetic","dx":3,"dy":-9,"color":"black"},
    "encoding":{"x":{"datum":900,"type":"quantitative","scale":{"domain":[-100,900],"nice":false,"zero":false},"axis":null},
     "y":{"datum":0,"type":"quantitative","scale":{"domain":[-24,24],"reverse":true,"nice":false,"zero":false},"axis":{"title":"µV","titleAngle":0,"titleAlign":"right","titleBaseline":"middle","titleX":-41,"titleY":3,"titleFontSize":15,"titleFontWeight":"normal","titleColor":"black","values":[-24,-16,-8,0,8,16,24],"labelExpr":"''+datum.value","labelFontSize":15,"labelColor":"black","labelPadding":8,"labelOverlap":false,"tickSize":4,"tickWidth":1.5,"tickColor":"black","domainColor":"black","domainWidth":1.5,"grid":false,"offset":-21.4}}}}
  ]}
]
}
